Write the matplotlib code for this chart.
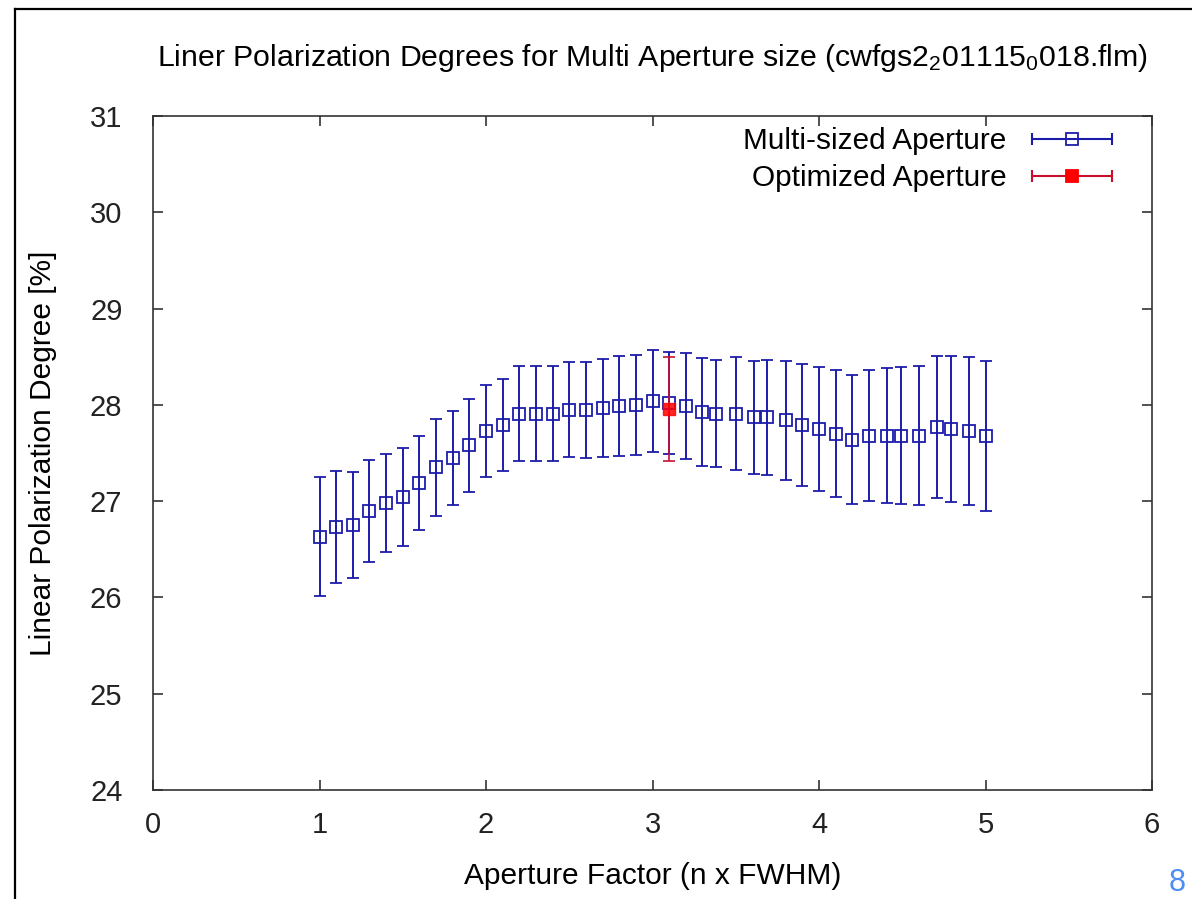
import numpy as np
import matplotlib
matplotlib.use("Agg")
import matplotlib.pyplot as plt
from matplotlib.lines import Line2D
from matplotlib.legend_handler import HandlerBase

# aperture factor, polarization degree [%], error [%]
aperture = [1.0, 1.1, 1.2, 1.3, 1.4, 1.5, 1.6, 1.7, 1.8, 1.9,
            2.0, 2.1, 2.2, 2.3, 2.4, 2.5, 2.6, 2.7, 2.8, 2.9,
            3.0, 3.1, 3.2, 3.3, 3.38, 3.5, 3.61, 3.69, 3.8, 3.9,
            4.0, 4.1, 4.2, 4.3, 4.41, 4.49, 4.6, 4.71, 4.79, 4.9, 5.0]
pol = [26.63, 26.73, 26.75, 26.90, 26.98, 27.04, 27.19, 27.35, 27.45, 27.58,
       27.73, 27.79, 27.91, 27.91, 27.91, 27.95, 27.95, 27.97, 27.99, 28.00,
       28.04, 28.02, 27.99, 27.93, 27.91, 27.91, 27.87, 27.87, 27.84, 27.79,
       27.75, 27.70, 27.64, 27.68, 27.68, 27.68, 27.68, 27.77, 27.75, 27.73, 27.68]
pol_err = [0.62, 0.58, 0.55, 0.53, 0.51, 0.51, 0.49, 0.50, 0.49, 0.48,
           0.48, 0.48, 0.49, 0.49, 0.49, 0.49, 0.50, 0.51, 0.52, 0.52,
           0.53, 0.53, 0.55, 0.56, 0.56, 0.59, 0.59, 0.60, 0.62, 0.63,
           0.64, 0.66, 0.67, 0.68, 0.70, 0.71, 0.72, 0.74, 0.76, 0.77, 0.78]

opt_aperture = [3.1]
opt_pol = [27.96]
opt_err = [0.54]

BLUE = '#1c1caa'
RED = '#ff0000'
RED_BAR = '#c8102e'

plt.rcParams['font.family'] = ['Liberation Sans', 'DejaVu Sans']
plt.rcParams['mathtext.fontset'] = 'custom'
plt.rcParams['mathtext.rm'] = 'Liberation Sans'
plt.rcParams['mathtext.it'] = 'Liberation Sans'


class HandlerHBar(HandlerBase):
    # gnuplot style key: horizontal bar with caps and the point in the middle
    def __init__(self, bar_color):
        super().__init__()
        self.bar_color = bar_color

    def create_artists(self, legend, orig_handle, xdescent, ydescent,
                       width, height, fontsize, trans):
        y = height / 2 - ydescent
        x0, x1 = -xdescent, width - xdescent
        line = Line2D([x0, x1], [y, y], color=self.bar_color, lw=1.5)
        caps = Line2D([x0, x1], [y, y], color=self.bar_color, ls='none',
                      marker='|', markersize=8, mew=1.5)
        mk = Line2D([(x0 + x1) / 2], [y], ls='none', marker='s',
                    markersize=orig_handle.get_markersize(),
                    markerfacecolor=orig_handle.get_markerfacecolor(),
                    markeredgecolor=orig_handle.get_markeredgecolor(),
                    markeredgewidth=orig_handle.get_markeredgewidth())
        for a in (line, caps, mk):
            a.set_transform(trans)
        return [line, caps, mk]


fig = plt.figure(figsize=(11.92, 8.99), dpi=100)
ax = fig.add_axes([153 / 1192, 1 - 790 / 899, 999 / 1192, 674 / 899])

ax.errorbar(aperture, pol, yerr=pol_err, fmt='s', color=BLUE, ecolor=BLUE,
            markersize=8.5, markerfacecolor='none', markeredgewidth=1.3,
            elinewidth=1.4, capsize=4.3, capthick=1.4, zorder=2)
ax.errorbar(opt_aperture, opt_pol, yerr=opt_err, fmt='s', color=RED, ecolor=RED_BAR,
            markersize=8.5, markerfacecolor=RED, markeredgecolor=RED,
            elinewidth=1.4, capsize=4.3, capthick=1.4, alpha=0.85, zorder=3)

ax.set_xlim(0, 6)
ax.set_ylim(24, 31)
ax.set_xticks(range(0, 7))
ax.set_yticks(range(24, 32))
ax.tick_params(direction='in', length=7, width=1.1, top=True, right=True,
               labelsize=21, pad=15, colors='#222222')
ax.tick_params(axis='y', pad=22)
for s in ax.spines.values():
    s.set_linewidth(1.2)
    s.set_color('#333333')

ax.set_xlabel('Aperture Factor (n x FWHM)', fontsize=21.5, labelpad=17)
ax.set_ylabel('Linear Polarization Degree [%]', fontsize=21.5, labelpad=24)
ax.set_title(r'Liner Polarization Degrees for Multi Aperture size (cwfgs2$_{2}$01115$_{0}$018.flm)',
             fontsize=21.8, pad=36)

h1 = Line2D([], [], color=BLUE, marker='s', markersize=8.5, markerfacecolor='none',
            markeredgecolor=BLUE, markeredgewidth=1.3)
h2 = Line2D([], [], color=RED, marker='s', markersize=8.5, markerfacecolor=RED,
            markeredgecolor=RED, markeredgewidth=1.3)
ax.legend([h1, h2], ['Multi-sized Aperture', 'Optimized Aperture'],
          handler_map={h1: HandlerHBar(BLUE), h2: HandlerHBar(RED_BAR)},
          loc='upper right', bbox_to_anchor=(0.960, 0.983), frameon=False,
          fontsize=21.4, markerfirst=False, handlelength=2.7, handletextpad=0.85,
          labelspacing=0.3, borderaxespad=0, borderpad=0)

# frame of the original window, cut at the right and bottom
fig.add_artist(Line2D([15 / 1192, 1.0], [1 - 9 / 899, 1 - 9 / 899],
                      transform=fig.transFigure, color='black', lw=1.6))
fig.add_artist(Line2D([15 / 1192, 15 / 1192], [0.0, 1 - 9 / 899],
                      transform=fig.transFigure, color='black', lw=1.6))
fig.text(1177 / 1192, 1 - 868 / 899, '8', color='#4d8ef0', fontsize=22,
         ha='center', va='top')

fig.savefig('out.png', dpi=100)
